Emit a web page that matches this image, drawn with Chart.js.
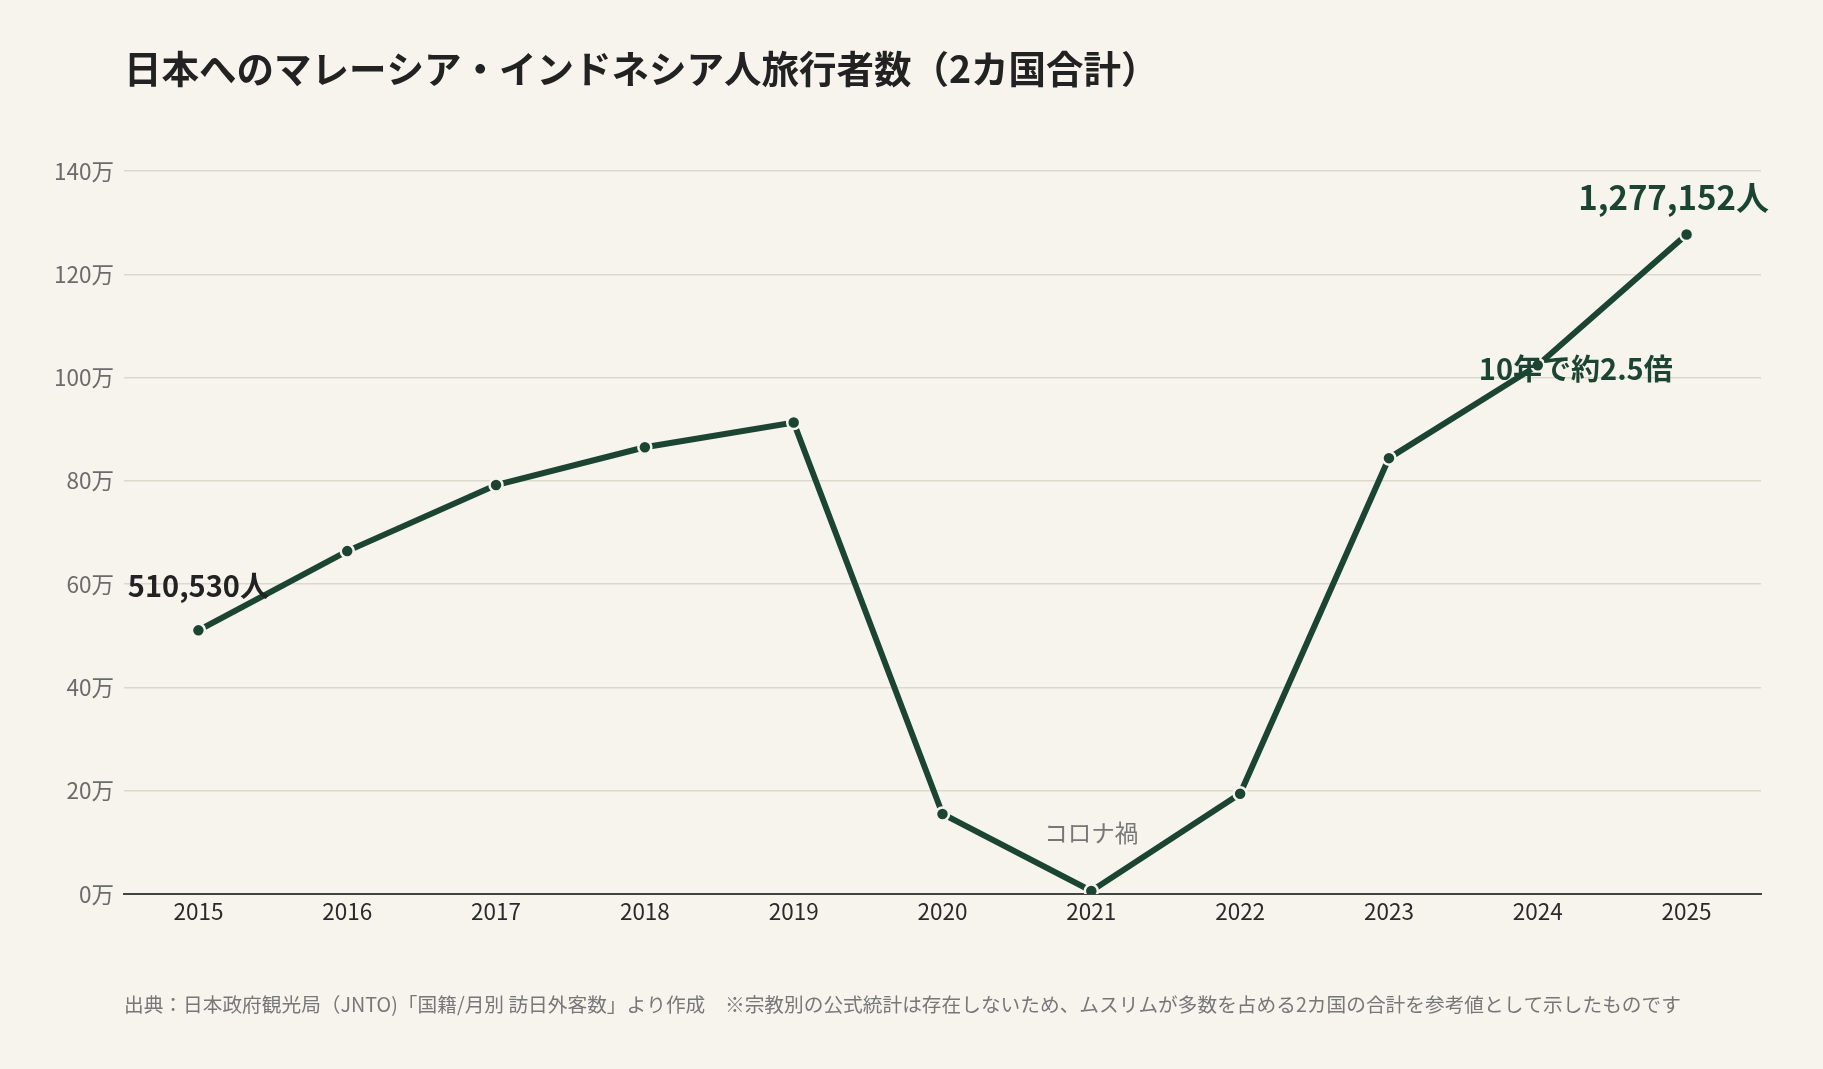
<!DOCTYPE html>
<html lang="ja">
<head>
<meta charset="utf-8">
<script src="https://cdn.jsdelivr.net/npm/chart.js@4"></script>
<style>
  html, body { margin: 0; padding: 0; background: #f7f4ee; }
  #wrap { position: relative; width: 1823px; height: 1069px; }
  canvas { position: absolute; left: 0; top: 0; }
</style>
</head>
<body>
<div id="wrap"><canvas id="c" width="1823" height="1069"></canvas></div>
<script>
const TITLE = '日本へのマレーシア・インドネシア人旅行者数（2カ国合計）';
const SOURCE = '出典：日本政府観光局（JNTO)「国籍/月別 訪日外客数」より作成　※宗教別の公式統計は存在しないため、ムスリムが多数を占める2カ国の合計を参考値として示したものです';
const years = ['2015','2016','2017','2018','2019','2020','2021','2022','2023','2024','2025'];
const visitors = [510530, 664000, 792000, 865000, 913000, 155000, 6000, 194000, 844000, 1024000, 1277152];
const yTicks = [0, 200000, 400000, 600000, 800000, 1000000, 1200000, 1400000];
const startLabel = '510,530人';
const endLabel = '1,277,152人';
const growthLabel = '10年で約2.5倍';
const covidLabel = 'コロナ禍';

const FONT = '"Noto Sans CJK JP", "Noto Sans", sans-serif';
const GREEN = '#1b4532';
const BG = '#f7f4ee';

const textPlugin = {
  id: 'texts',
  afterDraw(chart) {
    const ctx = chart.ctx;
    const meta = chart.getDatasetMeta(0);
    const pts = meta.data;
    ctx.save();
    // title
    ctx.fillStyle = '#222222';
    ctx.font = 'bold 37.5px ' + FONT;
    ctx.textAlign = 'left';
    ctx.textBaseline = 'middle';
    ctx.fillText(TITLE, 124, 69);
    // source
    ctx.fillStyle = '#777777';
    ctx.font = '19.7px ' + FONT;
    ctx.fillText(SOURCE, 124, 1005);
    // start label
    ctx.textAlign = 'center';
    ctx.fillStyle = '#222222';
    ctx.font = 'bold 29px ' + FONT;
    ctx.fillText(startLabel, pts[0].x, pts[0].y - 44);
    // end label
    ctx.fillStyle = GREEN;
    ctx.font = 'bold 33px ' + FONT;
    const last = pts[pts.length - 1];
    ctx.fillText(endLabel, last.x - 13, last.y - 37);
    // growth label
    ctx.font = 'bold 29px ' + FONT;
    ctx.fillText(growthLabel, pts[9].x + 38, pts[9].y + 4);
    // covid label
    ctx.fillStyle = '#777777';
    ctx.font = '23.5px ' + FONT;
    ctx.fillText(covidLabel, pts[6].x, pts[6].y - 58);
    ctx.restore();
  }
};

const bgPlugin = {
  id: 'bg',
  beforeDraw(chart) {
    const ctx = chart.ctx;
    ctx.save();
    ctx.fillStyle = BG;
    ctx.fillRect(0, 0, chart.width, chart.height);
    ctx.restore();
  }
};

new Chart(document.getElementById('c'), {
  type: 'line',
  data: {
    labels: years,
    datasets: [{
      data: visitors,
      borderColor: GREEN,
      borderWidth: 6,
      backgroundColor: GREEN,
      pointBackgroundColor: GREEN,
      pointBorderColor: BG,
      pointBorderWidth: 2.5,
      pointRadius: 6.5,
      tension: 0,
      fill: false
    }]
  },
  options: {
    responsive: false,
    animation: false,
    layout: { padding: { left: 0, top: 171, right: 62, bottom: 125 } },
    plugins: {
      legend: { display: false },
      tooltip: { enabled: false },
      title: { display: false }
    },
    scales: {
      x: {
        offset: true,
        grid: { display: false, drawTicks: false },
        border: { display: true, color: '#444444', width: 2 },
        ticks: {
          color: '#2a2a2a',
          font: { family: FONT, size: 22.5 },
          padding: 4,
          maxRotation: 0
        },
        afterFit(scale) { scale.height = 50; }
      },
      y: {
        min: 0,
        max: 1400000,
        afterBuildTicks(scale) { scale.ticks = yTicks.map(v => ({ value: v })); },
        grid: { color: '#dcd8ce', lineWidth: 1.5, drawTicks: false },
        border: { display: false },
        ticks: {
          color: '#6b6b6b',
          font: { family: FONT, size: 22.5 },
          padding: 10,
          callback: (v) => (v / 10000) + '万'
        },
        afterFit(scale) { scale.width = 124; }
      }
    }
  },
  plugins: [bgPlugin, textPlugin]
});
</script>
</body>
</html>
